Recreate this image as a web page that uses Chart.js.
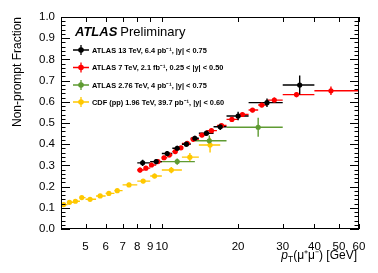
<!DOCTYPE html>
<html>
<head>
<meta charset="utf-8">
<script src="https://cdn.jsdelivr.net/npm/chart.js@4"></script>
<style>
  html, body { margin: 0; padding: 0; background: #fff; }
  #wrap { width: 378px; height: 273px; }
</style>
</head>
<body>
<div id="wrap"><canvas id="myChart" width="378" height="273"></canvas></div>
<script>
"use strict";

// ATLAS 13 TeV
const atlas13X = [8.4, 9.5, 10.5, 11.5, 12.5, 13.5, 15, 17, 20, 26, 35];
const atlas13Y = [0.312, 0.318, 0.356, 0.381, 0.400, 0.428, 0.452, 0.482, 0.533, 0.596, 0.679];
const atlas13Lo = [8, 9, 10, 11, 12, 13, 14, 16, 18, 22, 30];
const atlas13Hi = [9, 10, 11, 12, 13, 14, 16, 18, 22, 30, 40];
const atlas13Err = [0.015, 0.012, 0.012, 0.012, 0.012, 0.012, 0.012, 0.015, 0.02, 0.02, 0.045];

// ATLAS 7 TeV
const atlas7X = [8.2, 8.65, 9.1, 9.65, 10.2, 10.7, 11.3, 11.9, 12.6, 13.3, 14.4, 15.7, 17.2, 18.9, 20.8, 22.8, 24.8, 27.8, 34, 46.5];
const atlas7Y = [0.278, 0.287, 0.302, 0.318, 0.336, 0.349, 0.365, 0.383, 0.404, 0.423, 0.443, 0.464, 0.488, 0.517, 0.540, 0.561, 0.585, 0.608, 0.634, 0.652];
const atlas7Lo = [8, 8.5, 9, 9.5, 10, 10.5, 11, 11.5, 12, 13, 14, 15, 16.5, 18, 20, 22, 24, 26, 30, 40];
const atlas7Hi = [8.5, 9, 9.5, 10, 10.5, 11, 11.5, 12, 13, 14, 15, 16.5, 18, 20, 22, 24, 26, 30, 40, 60];
const atlas7Err = [0.012, 0.01, 0.01, 0.01, 0.01, 0.01, 0.01, 0.01, 0.01, 0.01, 0.01, 0.01, 0.01, 0.01, 0.01, 0.01, 0.012, 0.012, 0.012, 0.02];

// ATLAS 2.76 TeV
const atlas276X = [11.5, 15.4, 24];
const atlas276Y = [0.318, 0.416, 0.48];
const atlas276Lo = [9, 13.5, 18];
const atlas276Hi = [13.5, 18, 30];
const atlas276Err = [0.015, 0.025, 0.045];

// CDF
const cdfX = [4.1, 4.32, 4.56, 4.83, 5.21, 5.71, 6.18, 6.67, 7.42, 8.44, 9.36, 10.9, 12.9, 15.5];
const cdfY = [0.115, 0.126, 0.131, 0.148, 0.140, 0.156, 0.168, 0.181, 0.208, 0.226, 0.250, 0.278, 0.339, 0.396];
const cdfLo = [4, 4.25, 4.5, 4.75, 5, 5.5, 6, 6.5, 7, 8, 9, 10, 12, 14];
const cdfHi = [4.25, 4.5, 4.75, 5, 5.5, 6, 6.5, 7, 8, 9, 10, 12, 14, 17];
const cdfErr = [0.008, 0.008, 0.008, 0.008, 0.008, 0.008, 0.008, 0.008, 0.01, 0.01, 0.012, 0.015, 0.02, 0.035];

const seriesLabels = [
  "ATLAS 13 TeV, 6.4 pb\u207B\u00B9, |y| < 0.75",
  "ATLAS 7 TeV, 2.1 fb\u207B\u00B9, 0.25 < |y| < 0.50",
  "ATLAS 2.76 TeV, 4 pb\u207B\u00B9, |y| < 0.75",
  "CDF (pp) 1.96 TeV, 39.7 pb\u207B\u00B9, |y| < 0.60"
];
const xTicks = [5, 6, 7, 8, 9, 10, 20, 30, 40, 50, 60];

function makeSet(label, xs, ys, lo, hi, err, color) {
  return {
    label: label,
    data: xs.map((x, i) => ({ x: x, y: ys[i] })),
    lo: lo, hi: hi, err: err,
    backgroundColor: color,
    borderColor: color,
    pointRadius: 2.6,
    pointBorderWidth: 0,
    showLine: false
  };
}

// draws x bins and y errors behind the markers
const errorBars = {
  id: "errorBars",
  beforeDatasetsDraw(chart) {
    const ctx = chart.ctx;
    const xs = chart.scales.x, ys = chart.scales.y;
    const area = chart.chartArea;
    ctx.save();
    ctx.beginPath();
    ctx.rect(area.left, area.top, area.right - area.left, area.bottom - area.top);
    ctx.clip();
    // draw in reverse so black ends up on top
    for (let d = chart.data.datasets.length - 1; d >= 0; d--) {
      const ds = chart.data.datasets[d];
      ctx.strokeStyle = ds.borderColor;
      ctx.lineWidth = 1.4;
      ds.data.forEach((p, i) => {
        const px = xs.getPixelForValue(p.x);
        const py = ys.getPixelForValue(p.y);
        ctx.beginPath();
        ctx.moveTo(xs.getPixelForValue(ds.lo[i]), py);
        ctx.lineTo(xs.getPixelForValue(ds.hi[i]), py);
        ctx.moveTo(px, ys.getPixelForValue(p.y - ds.err[i]));
        ctx.lineTo(px, ys.getPixelForValue(p.y + ds.err[i]));
        ctx.stroke();
      });
    }
    ctx.restore();
  }
};

// frame, inward ticks, legend and x title
const decorations = {
  id: "decorations",
  afterDraw(chart) {
    const ctx = chart.ctx;
    const a = chart.chartArea;
    const xs = chart.scales.x, ys = chart.scales.y;
    ctx.save();
    ctx.strokeStyle = "#000";
    ctx.lineWidth = 1;
    ctx.strokeRect(a.left + 0.5, a.top + 0.5, a.right - a.left - 1, a.bottom - a.top - 1);

    ctx.beginPath();
    for (let v = 0; v <= 1.0001; v += 0.02) {
      const py = Math.round(ys.getPixelForValue(v)) + 0.5;
      const major = Math.abs(v * 10 - Math.round(v * 10)) < 0.001;
      const len = major ? 9 : 4.5;
      ctx.moveTo(a.left, py); ctx.lineTo(a.left + len, py);
      ctx.moveTo(a.right, py); ctx.lineTo(a.right - len, py);
    }
    xTicks.forEach(v => {
      const px = Math.round(xs.getPixelForValue(v)) + 0.5;
      const len = 5;
      ctx.moveTo(px, a.bottom); ctx.lineTo(px, a.bottom - len);
      ctx.moveTo(px, a.top); ctx.lineTo(px, a.top + len);
    });
    ctx.stroke();

    // header
    ctx.fillStyle = "#000";
    ctx.textBaseline = "alphabetic";
    ctx.font = "italic bold 13px 'Liberation Sans', Arial, sans-serif";
    ctx.fillText("ATLAS", 75, 36);
    const w = ctx.measureText("ATLAS").width;
    ctx.font = "13px 'Liberation Sans', Arial, sans-serif";
    ctx.fillText("Preliminary", 75 + w + 3, 36);

    // legend entries
    const rows = [50, 67.5, 85, 102];
    chart.data.datasets.forEach((ds, i) => {
      const cy = rows[i];
      ctx.strokeStyle = ds.borderColor;
      ctx.fillStyle = ds.borderColor;
      ctx.lineWidth = 1.3;
      ctx.beginPath();
      ctx.moveTo(73, cy); ctx.lineTo(89, cy);
      ctx.moveTo(81, cy - 5); ctx.lineTo(81, cy + 5);
      ctx.stroke();
      ctx.beginPath();
      ctx.arc(81, cy, 2.8, 0, Math.PI * 2);
      ctx.fill();
      ctx.fillStyle = "#000";
      ctx.font = "bold 7.4px 'Liberation Sans', Arial, sans-serif";
      ctx.textBaseline = "middle";
      ctx.fillText(ds.label, 92, cy + 0.5);
    });

    // x title: p_T(mu+mu-) [GeV], right aligned
    ctx.fillStyle = "#000";
    ctx.textBaseline = "alphabetic";
    const base = 259;
    const rest = "(\u03BC\u207A\u03BC\u207B) [GeV]";
    ctx.font = "12px 'Liberation Sans', Arial, sans-serif";
    const restW = ctx.measureText(rest).width;
    ctx.font = "8.5px 'Liberation Sans', Arial, sans-serif";
    const subW = ctx.measureText("T").width;
    ctx.font = "italic 12px 'Liberation Sans', Arial, sans-serif";
    const pW = ctx.measureText("p").width;
    let x0 = a.right - 2 - restW - subW - pW;
    ctx.fillText("p", x0, base);
    ctx.font = "8.5px 'Liberation Sans', Arial, sans-serif";
    ctx.fillText("T", x0 + pW, base + 3);
    ctx.font = "12px 'Liberation Sans', Arial, sans-serif";
    ctx.fillText(rest, x0 + pW + subW, base);
    ctx.restore();
  }
};

const ctx = document.getElementById("myChart");

new Chart(ctx, {
  type: "scatter",
  data: {
    datasets: [
      makeSet(seriesLabels[0], atlas13X, atlas13Y, atlas13Lo, atlas13Hi, atlas13Err, "#000000"),
      makeSet(seriesLabels[1], atlas7X, atlas7Y, atlas7Lo, atlas7Hi, atlas7Err, "#ff0000"),
      makeSet(seriesLabels[2], atlas276X, atlas276Y, atlas276Lo, atlas276Hi, atlas276Err, "#5f9b32"),
      makeSet(seriesLabels[3], cdfX, cdfY, cdfLo, cdfHi, cdfErr, "#ffc800")
    ]
  },
  options: {
    responsive: false,
    animation: false,
    layout: { padding: { top: 17, right: 19, left: 0, bottom: 0 } },
    plugins: {
      legend: { display: false },
      tooltip: { enabled: false }
    },
    scales: {
      x: {
        type: "logarithmic",
        min: 4,
        max: 60,
        afterBuildTicks: (scale) => { scale.ticks = xTicks.map(v => ({ value: v })); },
        afterFit: (scale) => { scale.height = 44; },
        grid: { display: false, drawTicks: false },
        border: { display: false },
        ticks: {
          autoSkip: false,
          maxRotation: 0,
          padding: 11,
          color: "#000",
          font: { family: "'Liberation Sans', Arial, sans-serif", size: 11.5 },
          callback: (v) => String(v)
        }
      },
      y: {
        min: 0,
        max: 1,
        afterFit: (scale) => { scale.width = 61; },
        grid: { display: false, drawTicks: false },
        border: { display: false },
        ticks: {
          stepSize: 0.1,
          padding: 6,
          color: "#000",
          font: { family: "'Liberation Sans', Arial, sans-serif", size: 11.5 },
          callback: (v) => Number(v).toFixed(1)
        },
        title: {
          display: true,
          text: "Non-prompt Fraction",
          align: "end",
          color: "#000",
          padding: { top: 10, bottom: 0 },
          font: { family: "'Liberation Sans', Arial, sans-serif", size: 12 }
        }
      }
    }
  },
  plugins: [errorBars, decorations]
});
</script>
</body>
</html>
